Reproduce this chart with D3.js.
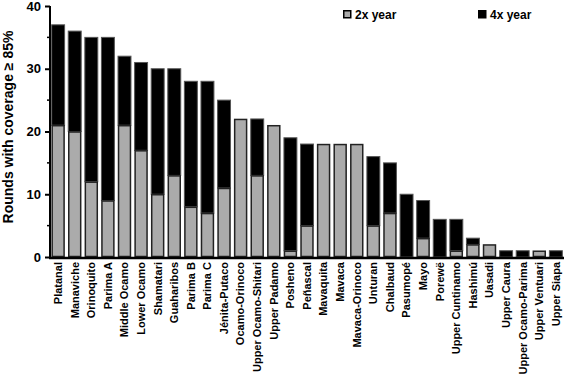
<!DOCTYPE html>
<html>
<head>
<meta charset="utf-8">
<script src="https://cdn.jsdelivr.net/npm/d3@7"></script>
<style>
  body { margin: 0; background: #fff; }
  text { font-family: "Liberation Sans", Arial, sans-serif; font-weight: bold; }
</style>
</head>
<body>
<div id="chart-area"></div>
<script>
// data
let villages = ["Platanal", "Manaviche", "Orinoquito", "Parima A", "Middle Ocamo", "Lower Ocamo",
  "Shamatari", "Guaharibos", "Parima B", "Parima C", "Jénita-Putaco", "Ocamo-Orinoco",
  "Upper Ocamo-Shitari", "Upper Padamo", "Posheno", "Peñascal", "Mavaquita", "Mavaca",
  "Mavaca-Orinoco", "Unturan", "Chalbaud", "Pasumopé", "Mayo", "Porewë", "Upper Cuntinamo",
  "Hashimú", "Uasadi", "Upper Caura", "Upper Ocamo-Parima", "Upper Ventuari", "Upper Siapa"];
let twiceYear = [21, 20, 12, 9, 21, 17, 10, 13, 8, 7, 11, 22, 13, 21, 1, 5, 18, 18, 18, 5, 7, 0, 3, 0, 1, 2, 2, 0, 0, 1, 0];
let fourYear  = [16, 16, 23, 26, 11, 14, 20, 17, 20, 21, 14, 0, 9, 0, 18, 13, 0, 0, 0, 11, 8, 10, 6, 6, 5, 1, 0, 1, 1, 0, 1];
let seriesNames = ["2x year", "4x year"];
let yTicks = [0, 10, 20, 30, 40];

let margin = {left: 50, right: 1, top: 6, bottom: 120};
let width = 565 - margin.left - margin.right;
let height = 377 - margin.top - margin.bottom;

let svg = d3.select("#chart-area")
  .append("svg")
  .attr("width", width + margin.left + margin.right)
  .attr("height", height + margin.top + margin.bottom);

let g = svg.append("g")
  .attr("transform", "translate(" + margin.left + "," + margin.top + ")");

let data = villages.map(function(v, i) {
  return {name: v, low: twiceYear[i], high: fourYear[i]};
});

let x = d3.scaleBand()
  .domain(villages)
  .range([0, width])
  .paddingInner(0.22)
  .paddingOuter(0.1);

let y = d3.scaleLinear()
  .domain([0, 40])
  .range([height, 0]);

// bars: grey bottom segment, black top segment
let bars = g.selectAll(".bar").data(data).enter().append("g");

bars.filter(function(d) { return d.high > 0; })
  .append("rect")
  .attr("x", function(d) { return x(d.name); })
  .attr("y", function(d) { return y(d.low + d.high); })
  .attr("width", x.bandwidth())
  .attr("height", function(d) { return y(d.low) - y(d.low + d.high); })
  .attr("fill", "#000")
  .attr("stroke", "#555")
  .attr("stroke-width", 1);

bars.filter(function(d) { return d.low > 0; })
  .append("rect")
  .attr("x", function(d) { return x(d.name) + 0.5; })
  .attr("y", function(d) { return y(d.low) + 0.5; })
  .attr("width", x.bandwidth() - 1)
  .attr("height", function(d) { return y(0) - y(d.low) - 1; })
  .attr("fill", "#ababab")
  .attr("stroke", "#222")
  .attr("stroke-width", 1.5);

// y axis
let yAxis = d3.axisLeft(y)
  .tickValues(yTicks)
  .tickSize(5)
  .tickPadding(4);
let yg = g.append("g").attr("class", "y axis").call(yAxis);
yg.select(".domain").attr("stroke-width", 2).attr("d", "M0," + (height + 1) + "V0");
yg.selectAll(".tick line").attr("stroke-width", 2);
yg.selectAll("text").attr("font-size", "13px").attr("fill", "#000");

// minor ticks at 5s
g.selectAll(".minor")
  .data([5, 15, 25, 35])
  .enter().append("line")
  .attr("x1", -3).attr("x2", 0)
  .attr("y1", function(d) { return y(d); })
  .attr("y2", function(d) { return y(d); })
  .attr("stroke", "#000")
  .attr("stroke-width", 1.5);

// x axis
let xAxis = d3.axisBottom(x).tickSize(0).tickPadding(6);
let xg = g.append("g")
  .attr("class", "x axis")
  .attr("transform", "translate(0," + (height + 1) + ")")
  .call(xAxis);
xg.select(".domain").attr("stroke-width", 2.5).attr("d", "M-1,0H" + width);
xg.selectAll("text")
  .attr("transform", "rotate(-90)")
  .attr("text-anchor", "end")
  .attr("x", -4)
  .attr("y", 0)
  .attr("dy", "0.35em")
  .attr("font-size", "11px")
  .attr("fill", "#000");

// y label
g.append("text")
  .attr("transform", "rotate(-90)")
  .attr("x", -121)
  .attr("y", -37)
  .attr("font-size", "14px")
  .attr("text-anchor", "middle")
  .text("Rounds with coverage \u2265 85%");

// legend
let legendX = [293, 428];
let legendColor = ["#ababab", "#000"];
let legend = g.selectAll(".legend")
  .data(seriesNames)
  .enter().append("g")
  .attr("transform", function(d, i) { return "translate(" + legendX[i] + ",4)"; });
legend.append("rect")
  .attr("x", 0.75).attr("y", 0.75)
  .attr("width", 7).attr("height", 7)
  .attr("fill", function(d, i) { return legendColor[i]; })
  .attr("stroke", "#000")
  .attr("stroke-width", 1.5);
legend.append("text")
  .attr("x", 12)
  .attr("y", 8.5)
  .attr("font-size", "12px")
  .text(function(d) { return d; });
</script>
</body>
</html>
